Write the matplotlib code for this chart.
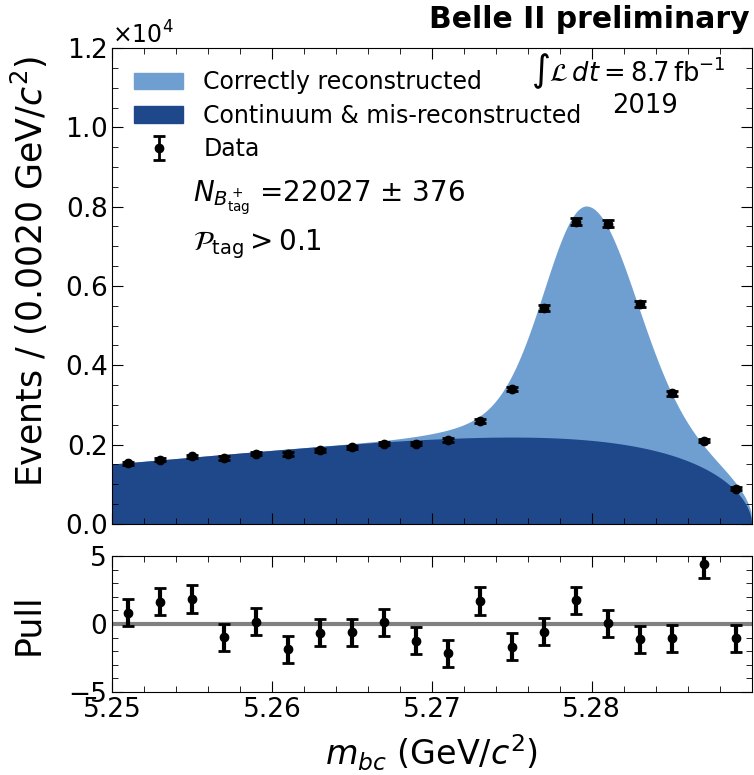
import numpy as np
import matplotlib.pyplot as plt
from matplotlib.patches import Patch
from matplotlib.ticker import MultipleLocator, ScalarFormatter

# m_bc bin centres (GeV/c^2), bin width 0.002
bin_centres = [5.251, 5.253, 5.255, 5.257, 5.259, 5.261, 5.263, 5.265, 5.267, 5.269,
               5.271, 5.273, 5.275, 5.277, 5.279, 5.281, 5.283, 5.285, 5.287, 5.289]
events = [1530, 1615, 1700, 1660, 1770, 1760, 1855, 1930, 2025, 2025,
          2110, 2600, 3400, 5450, 7620, 7570, 5550, 3290, 2100, 890]
pulls = [0.83, 1.64, 1.84, -0.98, 0.17, -1.86, -0.64, -0.61, 0.12, -1.23,
         -2.16, 1.69, -1.67, -0.56, 1.76, 0.05, -1.13, -1.05, 4.39, -1.05]
x_ticks = [5.25, 5.26, 5.27, 5.28]

# fit model parameters
m0 = 5.29              # kinematic endpoint
argus_c = -96.2
argus_p = 0.545
bkg_peak = 2190        # background height at its maximum
sig_mean = 5.2797
sig_sigma_l = 0.0026
sig_sigma_r = 0.0030
sig_sigma_wide = 0.0050
sig_frac_wide = 0.15
sig_height = 5900

light_blue = '#6f9fd0'
dark_blue = '#1f488a'


def argus(m):
    u = np.clip(1 - (m / m0) ** 2, 0, None)
    return u ** argus_p * np.exp(argus_c * u)


def signal(m):
    d = m - sig_mean
    s = np.where(d < 0, sig_sigma_l, sig_sigma_r)
    core = np.exp(-0.5 * (d / s) ** 2)
    wide = np.exp(-0.5 * (d / sig_sigma_wide) ** 2)
    return sig_height * ((1 - sig_frac_wide) * core + sig_frac_wide * wide)


m = np.linspace(5.25, m0, 800)
u_max = argus_p / -argus_c
m_max = m0 * np.sqrt(1 - u_max)
bkg = bkg_peak * argus(m) / argus(np.array(m_max))
total = bkg + signal(m) * (argus(m) > 0)

x = np.array(bin_centres)
y = np.array(events)
yerr = np.sqrt(y)

fig = plt.figure(figsize=(7.54, 7.75), dpi=100)
ax = fig.add_axes([0.1485, 0.324, 0.8485, 0.614])
axp = fig.add_axes([0.1485, 0.107, 0.8485, 0.1755], sharex=ax)

ax.fill_between(m, 0, total, color=light_blue, lw=0)
ax.fill_between(m, 0, bkg, color=dark_blue, lw=0)
data = ax.errorbar(x, y, yerr=yerr, fmt='o', color='black', ms=6,
                   elinewidth=2, capsize=4, capthick=2)

ax.set_xlim(5.25, 5.29)
ax.set_ylim(0, 12000)
fmt = ScalarFormatter(useMathText=True)
fmt.set_powerlimits((4, 4))
ax.yaxis.set_major_formatter(fmt)
ax.yaxis.get_offset_text().set_fontsize(17)
ax.yaxis.set_major_locator(MultipleLocator(2000))
ax.yaxis.set_minor_locator(MultipleLocator(500))
ax.set_ylabel('Events / (0.0020 GeV/$c^2$)', fontsize=25)
ax.yaxis.set_label_coords(-0.097, 0.53)
ax.tick_params(labelbottom=False)

handles = [Patch(color=light_blue), Patch(color=dark_blue), data]
labels = ['Correctly reconstructed', 'Continuum & mis-reconstructed', 'Data']
ax.legend(handles, labels, loc='upper left', fontsize=17, frameon=False,
          handlelength=2.07, handletextpad=0.85, borderaxespad=0.55,
          labelspacing=0.4)

ax.text(0.127, 0.685, r'$N_{B^+_{\rm tag}}$ =22027 $\pm$ 376', transform=ax.transAxes,
        fontsize=20, va='center')
ax.text(0.127, 0.587, r'$\mathcal{P}_{\rm tag} > 0.1$', transform=ax.transAxes,
        fontsize=20, va='center')
ax.text(0.96, 0.952, r'$\int\mathcal{L}\,dt = 8.7\,\mathrm{fb}^{-1}$',
        transform=ax.transAxes, fontsize=18.5, ha='right', va='center')
ax.text(0.833, 0.878, '2019', transform=ax.transAxes, fontsize=18.5,
        ha='center', va='center')
ax.text(0.996, 1.03, 'Belle II preliminary', transform=ax.transAxes, fontsize=21.5,
        fontweight='bold', ha='right', va='bottom')

axp.axhline(0, color='gray', lw=3)
axp.errorbar(x, pulls, yerr=1, fmt='o', color='black', ms=6,
             elinewidth=3, capsize=4, capthick=2)
axp.set_ylim(-5, 5)
axp.yaxis.set_major_locator(MultipleLocator(5))
axp.yaxis.set_minor_locator(MultipleLocator(1))
axp.set_xticks(x_ticks)
axp.xaxis.set_minor_locator(MultipleLocator(0.002))
axp.set_ylabel('Pull', fontsize=25)
axp.yaxis.set_label_coords(-0.105, 0.5)
axp.set_xlabel('$m_{bc}$ (GeV/$c^2$)', fontsize=24)
axp.xaxis.set_label_coords(0.5, -0.30)

for a in (ax, axp):
    a.tick_params(which='both', direction='in', top=True, right=True, labelsize=19)
    a.tick_params(which='major', length=8)
    a.tick_params(which='minor', length=4)

fig.savefig('out.png', dpi=100)
